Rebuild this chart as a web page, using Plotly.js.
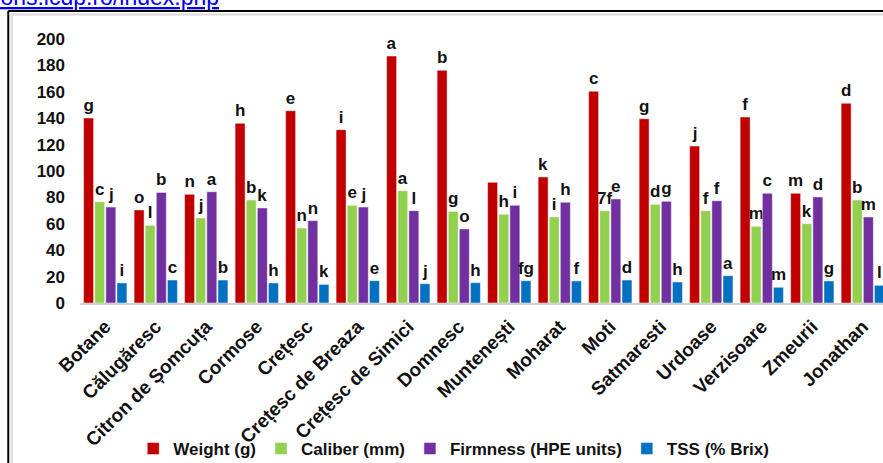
<!DOCTYPE html>
<html><head><meta charset="utf-8">
<script src="https://cdn.plot.ly/plotly-3.0.1.min.js"></script>
<style>html,body{margin:0;padding:0;background:#fff;}</style>
</head><body>
<div id="chart" style="width:883px;height:463px;"></div>
<script>
const categories = ["Botane","Călugăresc","Citron de Șomcuța","Cormose","Crețesc","Crețesc de Breaza","Crețesc de Simici","Domnesc","Muntenești","Moharat","Moti","Satmaresti","Urdoase","Verzisoare","Zmeurii","Jonathan"];
const weight   = [140.2,70.5,82.3,136.1,145.7,131.3,187.1,176.3,91.4,95.5,160.4,139.6,118.9,140.9,83.1,151.3];
const caliber  = [76.7,58.8,64.4,78.0,56.8,74.0,85.1,69.4,67.2,65.2,69.9,74.8,69.9,58.1,60.1,78.0];
const firmness = [72.7,83.8,84.3,72.0,62.4,72.7,69.9,56.1,74.0,76.3,78.8,77.0,77.5,83.1,80.3,65.2];
const tss      = [15.2,17.4,17.4,15.2,14.1,16.9,14.6,15.4,16.9,16.7,17.4,15.9,20.7,11.9,16.7,13.4];
const weightLetters   = ["g","o","n","h","e","i","a","b","","k","c","g","j","f","m","d"];
const caliberLetters  = ["c","l","j","b","n","e","a","g","h","i","7f","d","f","m","k","b"];
const firmnessLetters = ["j","b","a","k","n","j","l","o","i","h","e","g","f","c","d","m"];
const tssLetters      = ["i","c","b","h","k","e","j","h","fg","f","d","h","a","m","g","l"];

const FONT = "Liberation Sans, Arial, sans-serif";
const lblFont = {family: FONT, size: 17, color: "#111", weight: "bold"};
function tr(name, y, txt, color){
  return {type:"bar", name:name, x:categories, y:y, text:txt, textposition:"outside",
    textfont:lblFont, cliponaxis:false, hoverinfo:"none", constraintext:"none",
    marker:{color:color, line:{color:"rgba(255,255,255,0.6)", width:0.8}}};
}
const data = [
  tr("Weight (g)", weight, weightLetters, "#c00000"),
  tr("Caliber (mm)", caliber, caliberLetters, "#92d050"),
  tr("Firmness (HPE units)", firmness, firmnessLetters, "#7030a0"),
  tr("TSS (% Brix)", tss, tssLetters, "#0070c0")
];
const L = 79.75, R = 883, T = 39, B = 303;
const px = v => (v - L) / (R - L);
const py = v => (B - v) / (B - T);
const layout = {
  width:883, height:463,
  margin:{l:L, r:0, t:T, b:463-B, pad:0, autoexpand:false},
  paper_bgcolor:"#fff", plot_bgcolor:"#fff",
  barmode:"group", bargap:0.12, bargroupgap:0.1,
  font:{family:FONT, size:17, color:"#111", weight:"bold"},
  xaxis:{type:"category", range:[-0.5,15.4], tickangle:-45, showgrid:false, automargin:false,
    showline:true, linecolor:"#d0d0d0", linewidth:2, ticks:"", ticklabelstandoff:3,
    tickfont:{family:FONT, size:19, color:"#111", weight:"bold"}},
  yaxis:{range:[0,200], dtick:20, showgrid:false, zeroline:false, showline:false, automargin:false,
    ticks:"", ticklabelstandoff:14, tickfont:{family:FONT, size:17, color:"#111", weight:"bold"}},
  showlegend:true,
  legend:{orientation:"h", x:px(133), xanchor:"left", y:py(449), yanchor:"middle",
    font:{family:FONT, size:17, color:"#111", weight:"bold"}, itemwidth:30,
    traceorder:"normal", bgcolor:"rgba(0,0,0,0)"},
  shapes:[
    {type:"line", xref:"paper", yref:"paper", x0:px(8), x1:px(8), y0:py(11), y1:py(470), line:{color:"#000", width:2}},
    {type:"line", xref:"paper", yref:"paper", x0:px(8), x1:px(890), y0:py(11), y1:py(11), line:{color:"#000", width:2}},
    {type:"line", xref:"paper", yref:"paper", x0:px(11.5), x1:px(11.5), y0:py(14), y1:py(470), line:{color:"#d9d9d9", width:2}},
    {type:"line", xref:"paper", yref:"paper", x0:px(11.5), x1:px(890), y0:py(14.5), y1:py(14.5), line:{color:"#d9d9d9", width:2}}
  ],
  annotations:[
    {xref:"paper", yref:"paper", x:px(221), y:py(-3), xanchor:"right", yanchor:"middle",
     text:"<u>publications.icdp.ro/index.php</u>", showarrow:false,
     font:{family:FONT, size:23, color:"#0000ee", weight:"normal"}}
  ]
};
Plotly.newPlot("chart", data, layout, {displayModeBar:false, staticPlot:true});
</script>
</body></html>
